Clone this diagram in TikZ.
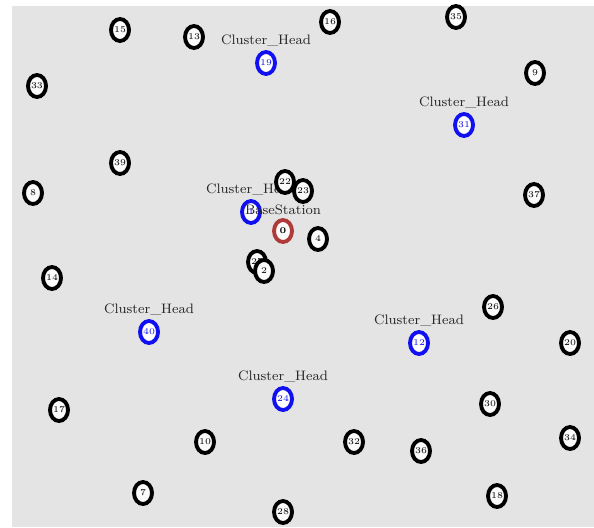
\documentclass[tikz,border=0pt]{standalone}
\usepackage{xcolor}
\usepackage{tikz}
\usetikzlibrary{positioning, shapes.geometric}
\definecolor{fondo}{HTML}{E4E4E4}
\definecolor{azul}{HTML}{1010F0}
\definecolor{rojo}{HTML}{B03A3A}
\tikzset{
  sensor/.style={ellipse, draw=black, fill=white!85!fondo, line width=2.2pt, inner sep=0pt,
                 minimum width=0.36cm, minimum height=0.44cm, font=\tiny, text=black},
  jefe/.style={sensor, draw=azul, fill=white, text=azul},
  base/.style={sensor, draw=rojo, fill=white!85!fondo, font=\tiny\bfseries},
  rotulo/.style={font=\fontsize{7.8}{9}\selectfont, inner sep=0.5pt, text=black!85},
}
\begin{document}
\begin{tikzpicture}[x=0.02cm, y=-0.02cm]
  \useasboundingbox (0,0) rectangle (594,527);
  \fill[fondo] (12,6) rectangle (594,527);
  % cluster heads
  \node[jefe] (ch1) at (266,63) {19};
  \node[jefe] (ch2) at (464,125) {31};
  \node[jefe] (ch3) at (251,212) {1};
  \node[jefe] (ch4) at (149,332) {40};
  \node[jefe] (ch5) at (419,343) {12};
  \node[jefe] (ch6) at (283,399) {24};
  \node[rotulo, above=0.4mm of ch1] (r1) {Cluster\_Head};
  \node[rotulo, above=0.4mm of ch2] (r2) {Cluster\_Head};
  \node[rotulo, above=0.4mm of ch3] (r3) {Cluster\_Head};
  \node[rotulo, above=0.4mm of ch4] (r4) {Cluster\_Head};
  \node[rotulo, above=0.4mm of ch5] (r5) {Cluster\_Head};
  \node[rotulo, above=0.4mm of ch6] (r6) {Cluster\_Head};
  % base station
  \node[base] (bs) at (283,231) {0};
  \node[rotulo, above=0.4mm of bs] (rbs) {BaseStation};
  % sensor nodes
  \node[sensor] (n15) at (120,30) {15};  \node[sensor] (n13) at (194,37) {13};
  \node[sensor] (n16) at (330,22) {16};  \node[sensor] (n35) at (456,17) {35};
  \node[sensor] (n9) at (535,73) {9};    \node[sensor] (n33) at (37,86) {33};
  \node[sensor] (n39) at (120,163) {39}; \node[sensor] (n8) at (33,193) {8};
  \node[sensor] (n37) at (534,195) {37}; \node[sensor] (n22) at (285,182) {22};
  \node[sensor] (n23) at (303,191) {23}; \node[sensor] (n4) at (318,239) {4};
  \node[sensor] (n27) at (257,262) {27}; \node[sensor] (n2) at (264,271) {2};
  \node[sensor] (n14) at (52,278) {14};  \node[sensor] (n26) at (493,307) {26};
  \node[sensor] (n20) at (570,343) {20}; \node[sensor] (n17) at (59,410) {17};
  \node[sensor] (n30) at (490,404) {30}; \node[sensor] (n10) at (205,442) {10};
  \node[sensor] (n32) at (354,442) {32}; \node[sensor] (n36) at (421,451) {36};
  \node[sensor] (n34) at (570,438) {34}; \node[sensor] (n7) at (143,493) {7};
  \node[sensor] (n18) at (497,496) {18}; \node[sensor] (n28) at (283,512) {28};
\end{tikzpicture}
\end{document}
